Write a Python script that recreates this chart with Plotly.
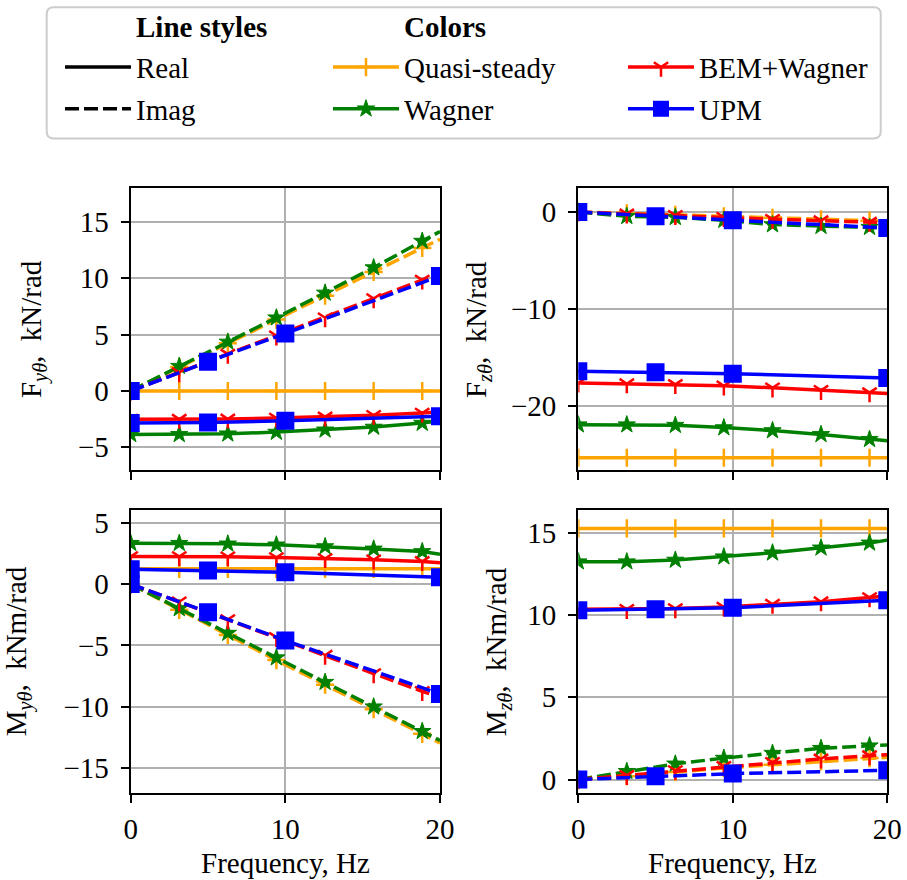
import plotly.graph_objects as go
from plotly.subplots import make_subplots

# Frequency grids (Hz)
freq = [0.0, 3.14, 6.28, 9.42, 12.57, 15.71, 18.85, 20.0]
freq_upm = [0.0, 5.0, 10.0, 20.0]

# F_y(theta), kN/rad
fy_qs_re = [0.0, 0.0, 0.0, 0.0, 0.0, 0.0, 0.0, 0.0]
fy_qs_im = [0.0, 2.12, 4.23, 6.34, 8.46, 10.57, 12.69, 13.47]
fy_wag_re = [-3.85, -3.85, -3.8, -3.65, -3.45, -3.2, -2.85, -2.65]
fy_wag_im = [0.0, 2.2, 4.35, 6.5, 8.7, 10.95, 13.3, 14.15]
fy_bem_re = [-2.5, -2.5, -2.48, -2.4, -2.3, -2.15, -1.95, -1.85]
fy_bem_im = [0.0, 1.63, 3.27, 4.9, 6.5, 8.2, 9.85, 10.35]
fy_upm_re = [-2.85, -2.8, -2.65, -2.25]
fy_upm_im = [0.0, 2.6, 5.1, 10.2]

# F_z(theta), kN/rad
fz_qs_re = [-25.3, -25.3, -25.3, -25.3, -25.3, -25.3, -25.3, -25.3]
fz_qs_im = [0.0, -0.15, -0.3, -0.45, -0.6, -0.75, -0.9, -0.95]
fz_wag_re = [-21.9, -21.9, -21.95, -22.2, -22.5, -22.9, -23.4, -23.55]
fz_wag_im = [0.0, -0.45, -0.55, -0.85, -1.3, -1.47, -1.57, -1.65]
fz_bem_re = [-17.6, -17.68, -17.75, -17.9, -18.1, -18.36, -18.6, -18.7]
fz_bem_im = [0.0, -0.2, -0.35, -0.55, -0.75, -0.9, -1.05, -1.1]
fz_upm_re = [-16.4, -16.5, -16.65, -17.1]
fz_upm_im = [0.0, -0.45, -0.85, -1.65]

# M_y(theta), kNm/rad
my_qs_re = [1.24, 1.24, 1.24, 1.24, 1.24, 1.24, 1.24, 1.24]
my_qs_im = [0.0, -2.1, -4.15, -6.2, -8.2, -10.2, -12.2, -12.95]
my_wag_re = [3.32, 3.32, 3.27, 3.19, 3.05, 2.86, 2.65, 2.43]
my_wag_im = [0.0, -2.0, -4.0, -6.0, -8.0, -10.0, -12.0, -12.75]
my_bem_re = [2.24, 2.24, 2.22, 2.16, 2.08, 1.97, 1.84, 1.73]
my_bem_im = [0.0, -1.45, -2.9, -4.35, -5.8, -7.3, -8.75, -9.2]
my_upm_re = [1.2, 1.1, 0.95, 0.55]
my_upm_im = [0.0, -2.3, -4.6, -8.95]

# M_z(theta), kNm/rad
mz_qs_re = [15.25, 15.25, 15.25, 15.25, 15.25, 15.25, 15.25, 15.25]
mz_qs_im = [0.0, 0.2, 0.45, 0.7, 0.9, 1.1, 1.3, 1.35]
mz_wag_re = [13.23, 13.23, 13.33, 13.53, 13.77, 14.07, 14.37, 14.54]
mz_wag_im = [0.0, 0.5, 0.95, 1.3, 1.6, 1.9, 2.05, 2.1]
mz_bem_re = [10.34, 10.34, 10.38, 10.48, 10.65, 10.8, 11.05, 11.15]
mz_bem_im = [0.0, 0.25, 0.55, 0.8, 1.05, 1.25, 1.45, 1.5]
mz_upm_re = [10.28, 10.34, 10.44, 10.89]
mz_upm_im = [0.0, 0.2, 0.36, 0.56]

panels = [
    dict(row=1, col=1, qs=(fy_qs_re, fy_qs_im), wag=(fy_wag_re, fy_wag_im),
         bem=(fy_bem_re, fy_bem_im), upm=(fy_upm_re, fy_upm_im)),
    dict(row=1, col=2, qs=(fz_qs_re, fz_qs_im), wag=(fz_wag_re, fz_wag_im),
         bem=(fz_bem_re, fz_bem_im), upm=(fz_upm_re, fz_upm_im)),
    dict(row=2, col=1, qs=(my_qs_re, my_qs_im), wag=(my_wag_re, my_wag_im),
         bem=(my_bem_re, my_bem_im), upm=(my_upm_re, my_upm_im)),
    dict(row=2, col=2, qs=(mz_qs_re, mz_qs_im), wag=(mz_wag_re, mz_wag_im),
         bem=(mz_bem_re, mz_bem_im), upm=(mz_upm_re, mz_upm_im)),
]

y_titles = ["F<sub><i>yθ</i></sub>,&nbsp; kN/rad", "F<sub><i>zθ</i></sub>,&nbsp; kN/rad",
            "M<sub><i>yθ</i></sub>,&nbsp; kNm/rad", "M<sub><i>zθ</i></sub>,&nbsp; kNm/rad"]
y_ranges = [[-7, 18], [-26.55, 2.45], [-17, 6.03], [-0.8, 16.37]]
y_ticks = [[-5, 0, 5, 10, 15], [-20, -10, 0], [-15, -10, -5, 0, 5], [0, 5, 10, 15]]

ORANGE, GREEN, RED, BLUE = "#FFA500", "#008000", "#FF0000", "#0000FF"
LW = 3.5
DASH = "14px,5px"
FONT = "Liberation Serif"
FS = 29

styles = {
    "qs": dict(color=ORANGE, symbol="cross-thin", size=13, lw=2.5, name="Quasi-steady"),
    "wag": dict(color=GREEN, symbol="star", size=13, lw=1, name="Wagner"),
    "bem": dict(color=RED, symbol="y-down", size=12, lw=2.5, name="BEM+Wagner"),
    "upm": dict(color=BLUE, symbol="square", size=18, lw=0, name="UPM"),
}

fig = make_subplots(rows=2, cols=2)

for p in panels:
    for key in ["qs", "wag", "bem", "upm"]:
        st = styles[key]
        re, im = p[key]
        if key == "upm":
            xs = freq_upm
            sizes = [st["size"]] * len(xs)
        else:
            xs = freq
            # markers at the multiples of pi only, not at the end point
            sizes = [st["size"]] * (len(xs) - 1) + [0]
        for vals, dash in [(re, "solid"), (im, DASH)]:
            fig.add_trace(go.Scatter(
                x=xs, y=vals, mode="lines+markers", showlegend=False,
                line=dict(color=st["color"], width=LW, dash=dash),
                marker=dict(symbol=st["symbol"], size=sizes, color=st["color"], opacity=1,
                            line=dict(color=st["color"], width=st["lw"])),
                hoverinfo="skip", cliponaxis=True,
            ), row=p["row"], col=p["col"])

# Legend-only entries
def legend_entry(name, legend, group, color="black", dash="solid", width=LW, marker=None):
    kw = dict(x=[None], y=[None], name=name, legend=legend, legendgroup=group,
              showlegend=True, hoverinfo="skip",
              line=dict(color=color, width=width, dash=dash))
    if marker is None:
        kw["mode"] = "lines"
    else:
        kw["mode"] = "lines+markers"
        kw["marker"] = marker
    fig.add_trace(go.Scatter(**kw))

legend_entry("<b>Line styles</b>", "legend", "h1", width=0)
legend_entry("Real", "legend", "re")
legend_entry("Imag", "legend", "im", dash=DASH)
legend_entry("<b>Colors</b>", "legend2", "h2", width=0)
legend_entry("&nbsp;", "legend3", "h3", width=0)
for key, leg in [("qs", "legend2"), ("wag", "legend2"), ("bem", "legend3"), ("upm", "legend3")]:
    st = styles[key]
    legend_entry(st["name"], leg, key, color=st["color"],
                 marker=dict(symbol=st["symbol"], size=min(st["size"], 16), color=st["color"],
                             opacity=1, line=dict(color=st["color"], width=st["lw"])))

W, H = 907, 880
def px_x(v):
    return v / W
def px_y(v):
    return 1 - v / H

x_dom = [[px_x(130.7), px_x(440.0)], [px_x(578.3), px_x(887.3)]]
y_dom = [[px_y(468.0), px_y(185.0)], [px_y(792.3), px_y(508.3)]]

axis_common = dict(showline=True, mirror=True, linecolor="black", linewidth=2.3,
                   ticks="outside", ticklen=8, tickwidth=2, tickcolor="black",
                   showgrid=True, gridcolor="#b0b0b0", gridwidth=1.6, zeroline=False,
                   tickfont=dict(family=FONT, size=FS, color="black"), automargin=False)

for i, p in enumerate(panels):
    r, c = p["row"], p["col"]
    fig.update_xaxes(range=[0, 20], tickvals=[0, 10, 20], domain=x_dom[c - 1],
                     showticklabels=(r == 2), ticklabelstandoff=1, row=r, col=c, **axis_common)
    fig.update_yaxes(range=y_ranges[i], tickvals=y_ticks[i], domain=y_dom[r - 1],
                     ticklabelstandoff=6, row=r, col=c, **axis_common)

annotations = []
title_x = [33, 478, 18, 498]
for i, p in enumerate(panels):
    r, c = p["row"], p["col"]
    yc = (y_dom[r - 1][0] + y_dom[r - 1][1]) / 2
    annotations.append(dict(text=y_titles[i], x=px_x(title_x[i]), y=yc, xref="paper", yref="paper",
                            textangle=-90, showarrow=False, xanchor="center", yanchor="middle",
                            font=dict(family=FONT, size=FS, color="black")))
for c in (1, 2):
    xc = (x_dom[c - 1][0] + x_dom[c - 1][1]) / 2
    annotations.append(dict(text="Frequency, Hz", x=xc, y=px_y(863), xref="paper", yref="paper",
                            showarrow=False, xanchor="center", yanchor="middle",
                            font=dict(family=FONT, size=FS, color="black")))

# Rounded legend frame
x0, x1 = px_x(46.7), px_x(880.7)
yt, yb = px_y(3.3), px_y(135.0)
rx, ry = 7 / W, 7 / H
frame = (f"M{x0 + rx},{yt} L{x1 - rx},{yt} Q{x1},{yt} {x1},{yt - ry} "
         f"L{x1},{yb + ry} Q{x1},{yb} {x1 - rx},{yb} L{x0 + rx},{yb} "
         f"Q{x0},{yb} {x0},{yb + ry} L{x0},{yt - ry} Q{x0},{yt} {x0 + rx},{yt} Z")

legend_style = dict(font=dict(family=FONT, size=FS, color="black"), bgcolor="rgba(0,0,0,0)",
                    borderwidth=0, itemwidth=66, tracegroupgap=1, traceorder="grouped",
                    orientation="v", xanchor="left", yanchor="top", itemclick=False,
                    itemdoubleclick=False)

fig.update_layout(
    width=W, height=H, margin=dict(l=0, r=0, t=0, b=0),
    paper_bgcolor="white", plot_bgcolor="white",
    font=dict(family=FONT, size=FS, color="black"),
    annotations=annotations,
    shapes=[dict(type="path", path=frame, xref="paper", yref="paper",
                 line=dict(color="#cccccc", width=2), fillcolor="rgba(255,255,255,0.8)", layer="below")],
    legend=dict(x=px_x(60), y=px_y(-4), **legend_style),
    legend2=dict(x=px_x(328), y=px_y(-4), **legend_style),
    legend3=dict(x=px_x(623), y=px_y(-4), **legend_style),
)

fig.write_html("out.html")
